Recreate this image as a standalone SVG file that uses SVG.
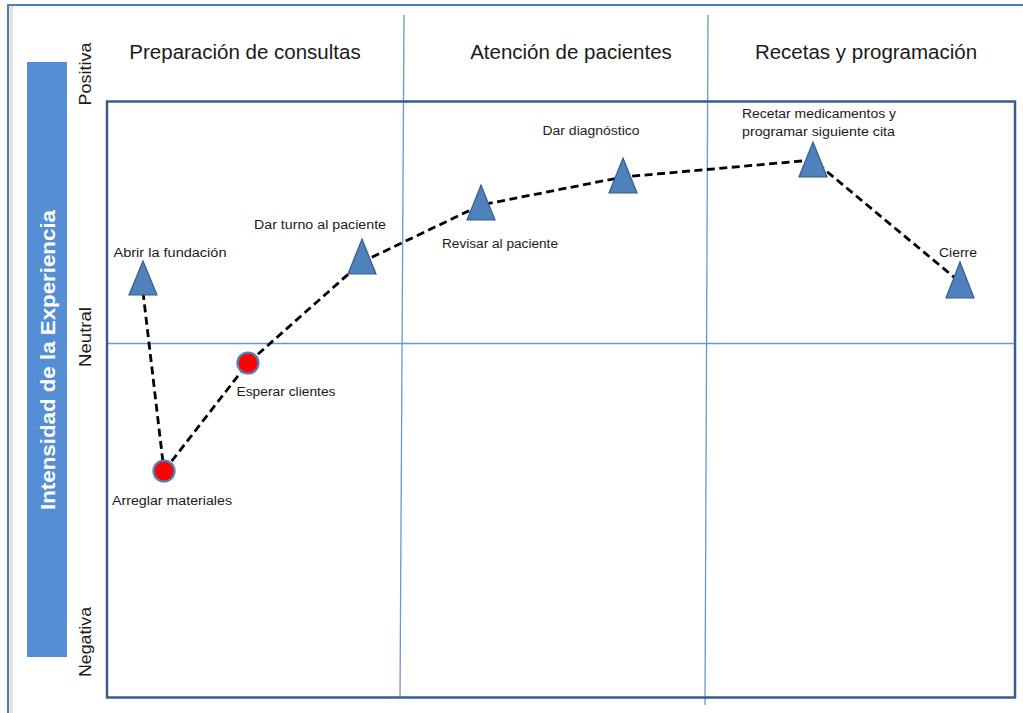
<svg xmlns="http://www.w3.org/2000/svg" width="1023" height="713" viewBox="0 0 1023 713">
  <defs>
    <style>
      .hdr { font-family: "Liberation Sans", Arial, sans-serif; font-size: 20.5px; fill: #1a1a1a; text-anchor: middle; }
      .axis { font-family: "Liberation Sans", Arial, sans-serif; font-size: 16.5px; fill: #1a1a1a; text-anchor: middle; }
      .lbl { font-family: "Liberation Sans", Arial, sans-serif; font-size: 12.5px; fill: #1a1a1a; }
      .mid { text-anchor: middle; }
      .tri { fill: #4F81BD; stroke: #385D8A; stroke-width: 1.2; }
      .dot { fill: #FF0000; stroke: #4F81BD; stroke-width: 2.2; }
      .grid { stroke: #6E95CC; stroke-width: 1.3; fill: none; }
      .conn { stroke: #000; stroke-width: 2.8; stroke-dasharray: 8 4.5; fill: none; }
    </style>
  </defs>
  <rect x="0" y="0" width="1023" height="713" fill="#ffffff"/>
  <!-- outer frame -->
  <rect x="9" y="6" width="4" height="707" fill="#e3e3e3"/>
  <line x1="8" y1="5" x2="1023" y2="5" stroke="#4F7CBE" stroke-width="2"/>
  <line x1="8" y1="4" x2="8" y2="713" stroke="#4F7CBE" stroke-width="2"/>

  <!-- side bar -->
  <rect x="27" y="62" width="40" height="595" fill="#558ED5"/>
  <text transform="translate(55,360) rotate(-90)" font-family="'Liberation Sans', Arial, sans-serif" font-size="20" font-weight="bold" fill="#ffffff" text-anchor="middle" textLength="300" lengthAdjust="spacingAndGlyphs">Intensidad de la Experiencia</text>

  <!-- axis labels -->
  <text class="axis" transform="translate(91,74) rotate(-90)" textLength="63" lengthAdjust="spacingAndGlyphs">Positiva</text>
  <text class="axis" transform="translate(91,337) rotate(-90)" textLength="60" lengthAdjust="spacingAndGlyphs">Neutral</text>
  <text class="axis" transform="translate(91,642) rotate(-90)" textLength="70" lengthAdjust="spacingAndGlyphs">Negativa</text>

  <!-- column headers -->
  <text class="hdr" x="245" y="59">Preparación de consultas</text>
  <text class="hdr" x="571" y="59">Atención de pacientes</text>
  <text class="hdr" x="866" y="59">Recetas y programación</text>

  <!-- grid -->
  <line class="grid" x1="404" y1="15" x2="400" y2="697"/>
  <line class="grid" x1="708" y1="15" x2="705" y2="705"/>
  <line class="grid" x1="107" y1="343.5" x2="1015" y2="343.5"/>
  <rect x="107" y="101.5" width="908" height="596" fill="none" stroke="#385D8A" stroke-width="2.5"/>

  <!-- connectors -->
  <g id="connectors">
    <polyline class="conn" points="143,292 164,471"/>
    <polyline class="conn" points="164,471 248,363 362,262 481,205 623,177 813,160 955,278"/>
  </g>

  <!-- nodes -->
  <g id="abrir">
    <polygon class="tri" points="143,261 157,295 129,295"/>
    <text class="lbl mid" x="170" y="257" textLength="113" lengthAdjust="spacingAndGlyphs">Abrir la fundación</text>
  </g>
  <g id="arreglar">
    <circle class="dot" cx="164" cy="471" r="10.5"/>
    <text class="lbl mid" x="172" y="505" textLength="120" lengthAdjust="spacingAndGlyphs">Arreglar materiales</text>
  </g>
  <g id="esperar">
    <circle class="dot" cx="248" cy="363" r="10.5"/>
    <text class="lbl mid" x="286" y="396" textLength="99" lengthAdjust="spacingAndGlyphs">Esperar clientes</text>
  </g>
  <g id="dar-turno">
    <polygon class="tri" points="362,239 376,274 348,274"/>
    <text class="lbl mid" x="320" y="229" textLength="132" lengthAdjust="spacingAndGlyphs">Dar turno al paciente</text>
  </g>
  <g id="revisar">
    <polygon class="tri" points="481,185 495,220 467,220"/>
    <text class="lbl mid" x="500" y="248" textLength="116" lengthAdjust="spacingAndGlyphs">Revisar al paciente</text>
  </g>
  <g id="diagnostico">
    <polygon class="tri" points="623,158 637,193 609,193"/>
    <text class="lbl mid" x="591" y="135" textLength="97" lengthAdjust="spacingAndGlyphs">Dar diagnóstico</text>
  </g>
  <g id="recetar">
    <polygon class="tri" points="813,142 827,177 799,177"/>
    <text class="lbl" x="742" y="118" textLength="154" lengthAdjust="spacingAndGlyphs">Recetar medicamentos y</text>
    <text class="lbl" x="742" y="136" textLength="153" lengthAdjust="spacingAndGlyphs">programar siguiente cita</text>
  </g>
  <g id="cierre">
    <polygon class="tri" points="960,262 974,298 946,298"/>
    <text class="lbl mid" x="958" y="257" textLength="38" lengthAdjust="spacingAndGlyphs">Cierre</text>
  </g>
</svg>
